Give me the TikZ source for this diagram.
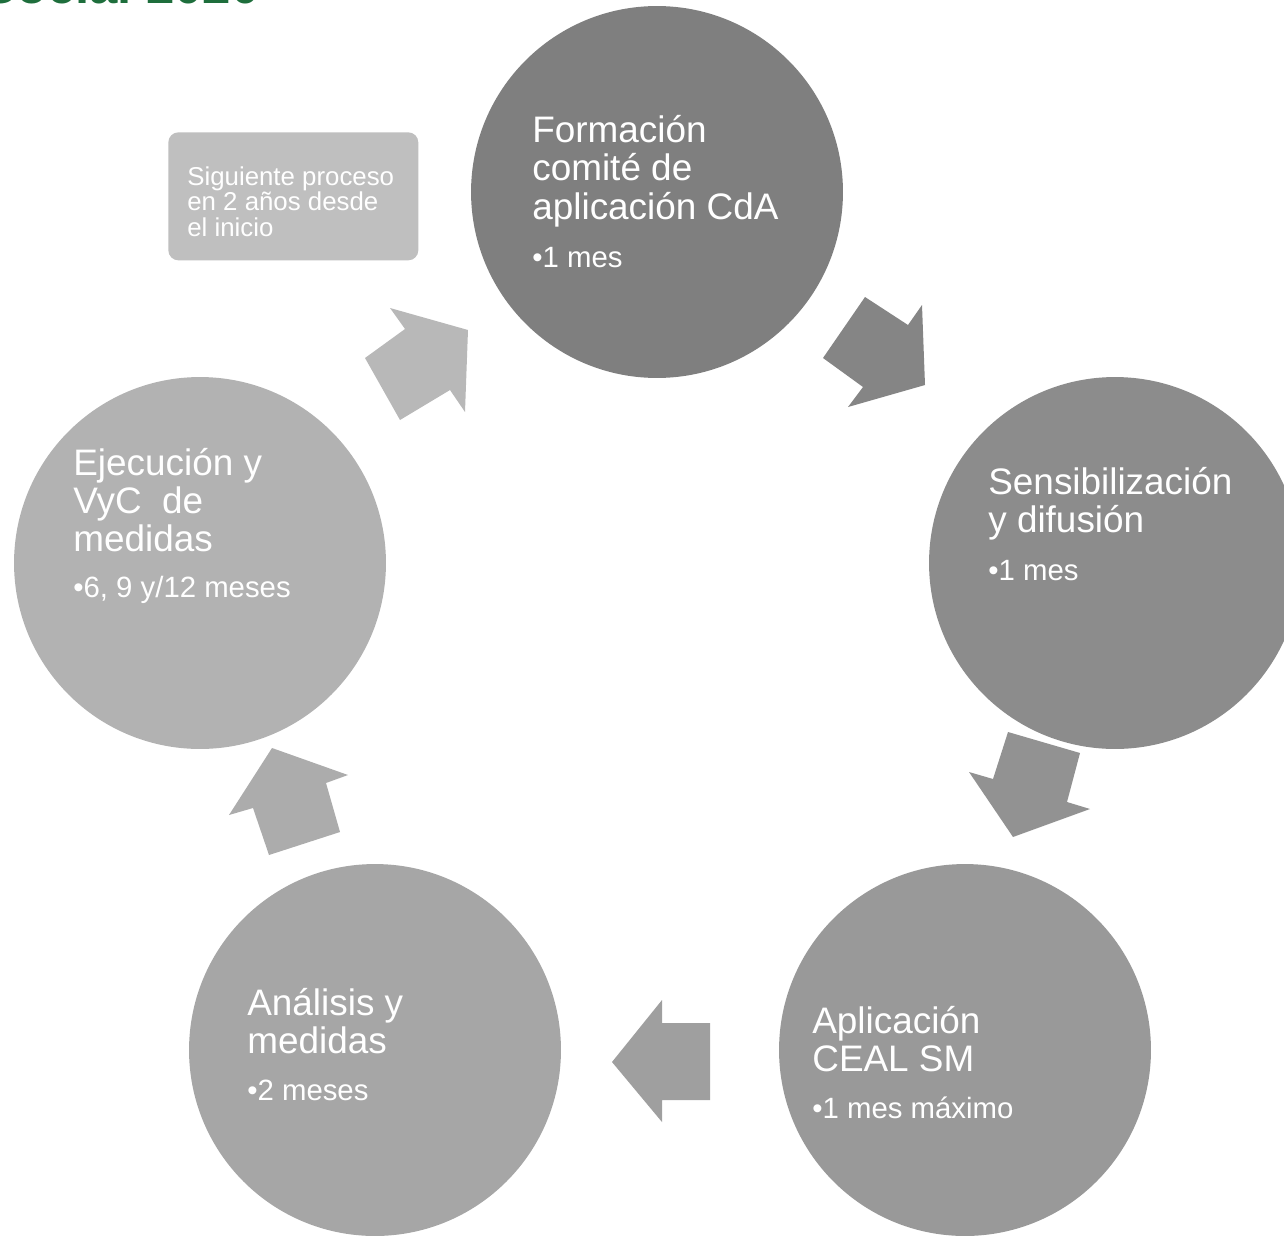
\documentclass[tikz,border=0pt]{standalone}
\usepackage{fontspec}
\setmainfont{Liberation Sans}
\usepackage{xcolor}
\definecolor{headgreen}{HTML}{1E6E3C}
\definecolor{cOne}{HTML}{7F7F7F}
\definecolor{cTwo}{HTML}{8C8C8C}
\definecolor{cThree}{HTML}{999999}
\definecolor{cFour}{HTML}{A6A6A6}
\definecolor{cFive}{HTML}{B2B2B2}
\definecolor{aOne}{HTML}{858585}
\definecolor{aTwo}{HTML}{929292}
\definecolor{aThree}{HTML}{9F9F9F}
\definecolor{aFour}{HTML}{ACACAC}
\definecolor{aFive}{HTML}{B8B8B8}
\definecolor{boxgrey}{HTML}{BFBFBF}

\begin{document}
\begin{tikzpicture}[x=0.02cm,y=-0.02cm,
    stage/.style={circle,minimum size=7.44cm,inner sep=0pt},
    title/.style={anchor=base west,inner sep=0pt,text=white,font=\fontsize{21}{21.8}\selectfont},
    bullet/.style={anchor=base west,inner sep=0pt,text=white,font=\fontsize{16.7}{20}\selectfont},
    note/.style={anchor=base west,inner sep=0pt,text=white,font=\fontsize{14.7}{13.8}\selectfont}]
    \useasboundingbox (0,0) rectangle (1284,1244);
    \begin{scope}
    \clip (0,0) rectangle (1284,1244);
    \node[anchor=base east,inner sep=0pt,text=headgreen,font=\bfseries\fontsize{29}{30}\selectfont] (head) at (260,4) {Social 2020};

    % circles
    \node[stage,fill=cOne] (form) at (657,192) {};
    \node[stage,fill=cTwo] (sens) at (1115,563) {};
    \node[stage,fill=cThree] (apli) at (965,1050) {};
    \node[stage,fill=cFour] (anal) at (375,1050) {};
    \node[stage,fill=cFive] (ejec) at (200,563) {};

    % block arrows
    \fill[aOne] (823,358)--(865,297)--(908,325)--(922,305)--(925,385)--(848,407)--(863,387)--cycle;
    \fill[aTwo] (1008,732)--(1080,753)--(1067,802)--(1090,809)--(1013,837)--(969,772)--(993,779)--cycle;
    \fill[aThree] (710,1023)--(710,1100)--(662,1100)--(662,1122)--(612,1062)--(662,1000)--(662,1023)--cycle;
    \fill[aFour] (272,748)--(348,775)--(326,783)--(340,832)--(269,855)--(253,808)--(229,815)--cycle;
    \fill[aFive] (390,308)--(405,329)--(365,358)--(400,420)--(450,390)--(465,412)--(468,330)--cycle;

    % note box
    \node[fill=boxgrey,rounded corners=0.2cm,minimum width=5cm,minimum height=2.56cm,anchor=north west] (next) at (168,132) {};
    \node[note] (nexttxt) at (187,185) {\begin{tabular}[t]{@{}l@{}}Siguiente proceso\\en 2 años desde\\el inicio\end{tabular}};

    % texts
    \node[title] (formtxt) at (532,142) {\begin{tabular}[t]{@{}l@{}}Formación\\comité de\\aplicación CdA\end{tabular}};
    \node[bullet] (formdur) at (532,267) {•1 mes};
    \node[title] (senstxt) at (988,494) {\begin{tabular}[t]{@{}l@{}}Sensibilización\\y difusión\end{tabular}};
    \node[bullet] (sensdur) at (988,580) {•1 mes};
    \node[title] (aplitxt) at (812,1033) {\begin{tabular}[t]{@{}l@{}}Aplicación\\CEAL SM\end{tabular}};
    \node[bullet] (aplidur) at (812,1118) {•1 mes máximo};
    \node[title] (analtxt) at (247,1015) {\begin{tabular}[t]{@{}l@{}}Análisis y\\medidas\end{tabular}};
    \node[bullet] (analdur) at (247,1100) {•2 meses};
    \node[title] (ejectxt) at (73,475) {\begin{tabular}[t]{@{}l@{}}Ejecución y\\VyC \ de\\medidas\end{tabular}};
    \node[bullet] (ejecdur) at (73,597) {•6, 9 y/12 meses};
    \end{scope}
\end{tikzpicture}
\end{document}
